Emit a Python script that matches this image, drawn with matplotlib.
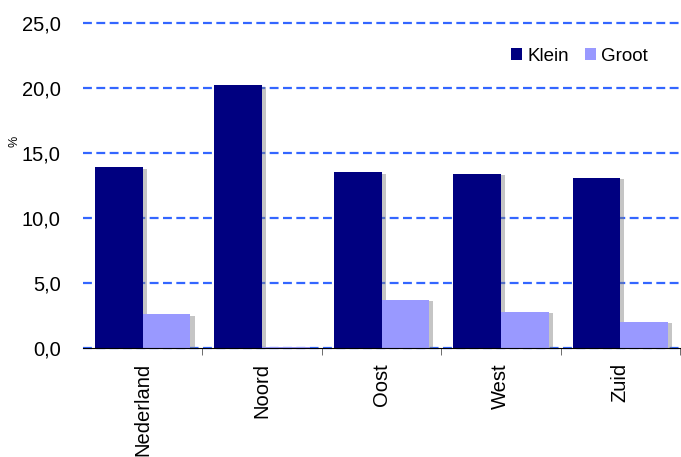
import numpy as np
import matplotlib.pyplot as plt
import matplotlib.patheffects as pe
from matplotlib.ticker import FuncFormatter, FixedLocator

regions = ["Nederland", "Noord", "Oost", "West", "Zuid"]
klein = [13.9, 20.2, 13.5, 13.4, 13.1]
groot = [2.6, 0.1, 3.7, 2.8, 2.0]

plt.rcParams["font.family"] = ["Liberation Sans", "DejaVu Sans"]

fig = plt.figure(figsize=(6.81, 4.57), dpi=100)
ax = fig.add_axes([83 / 681, 109 / 457, 597 / 681, 325.3 / 457])

x = np.arange(len(regions))
w = 0.4
shadow = [pe.SimplePatchShadow(offset=(3, -1), shadow_rgbFace="gray", alpha=0.45), pe.Normal()]

bk = ax.bar(x - w / 2, klein, w, color="#000080", label="Klein", zorder=3)
bg = ax.bar(x + w / 2, groot, w, color="#9999ff", label="Groot", zorder=3)
for b in list(bk) + list(bg):
    b.set_path_effects(shadow)

ax.set_xlim(-0.5, len(regions) - 0.5)
ax.set_ylim(0, 25)
ax.set_yticks(np.arange(0, 26, 5))
ax.yaxis.set_major_formatter(FuncFormatter(lambda v, p: f"{v:.1f}".replace(".", ",")))
ax.yaxis.grid(True, color="#3366ff", linestyle=(0, (4, 2)), linewidth=1.6, zorder=1)
for gl in ax.get_ygridlines():
    gl.set_clip_on(False)
ax.set_axisbelow(True)

ax.set_xticks(x)
ax.set_xticklabels(regions, rotation=90, fontsize=14.5)
ax.xaxis.set_minor_locator(FixedLocator(np.arange(0.5, len(regions), 1.0)))
ax.tick_params(axis="x", which="major", length=0, pad=11)
ax.tick_params(axis="x", which="minor", length=5, color="#555555")
ax.tick_params(axis="y", length=0, labelsize=14.5, pad=16)

for s in ["top", "right", "left"]:
    ax.spines[s].set_visible(False)
ax.spines["bottom"].set_color("black")
ax.spines["bottom"].set_zorder(4)

leg = ax.legend(loc="upper right", bbox_to_anchor=(0.975, 0.975), ncol=2, frameon=False,
                fontsize=13.5, handlelength=0.6, handleheight=0.6, handletextpad=0.3,
                columnspacing=0.8)
for h in leg.legend_handles:
    h.set_path_effects([])

fig.text(14 / 681, 1 - 141 / 457, "%", rotation=90, fontsize=9, ha="center", va="center")

fig.savefig("out.png", dpi=100)
